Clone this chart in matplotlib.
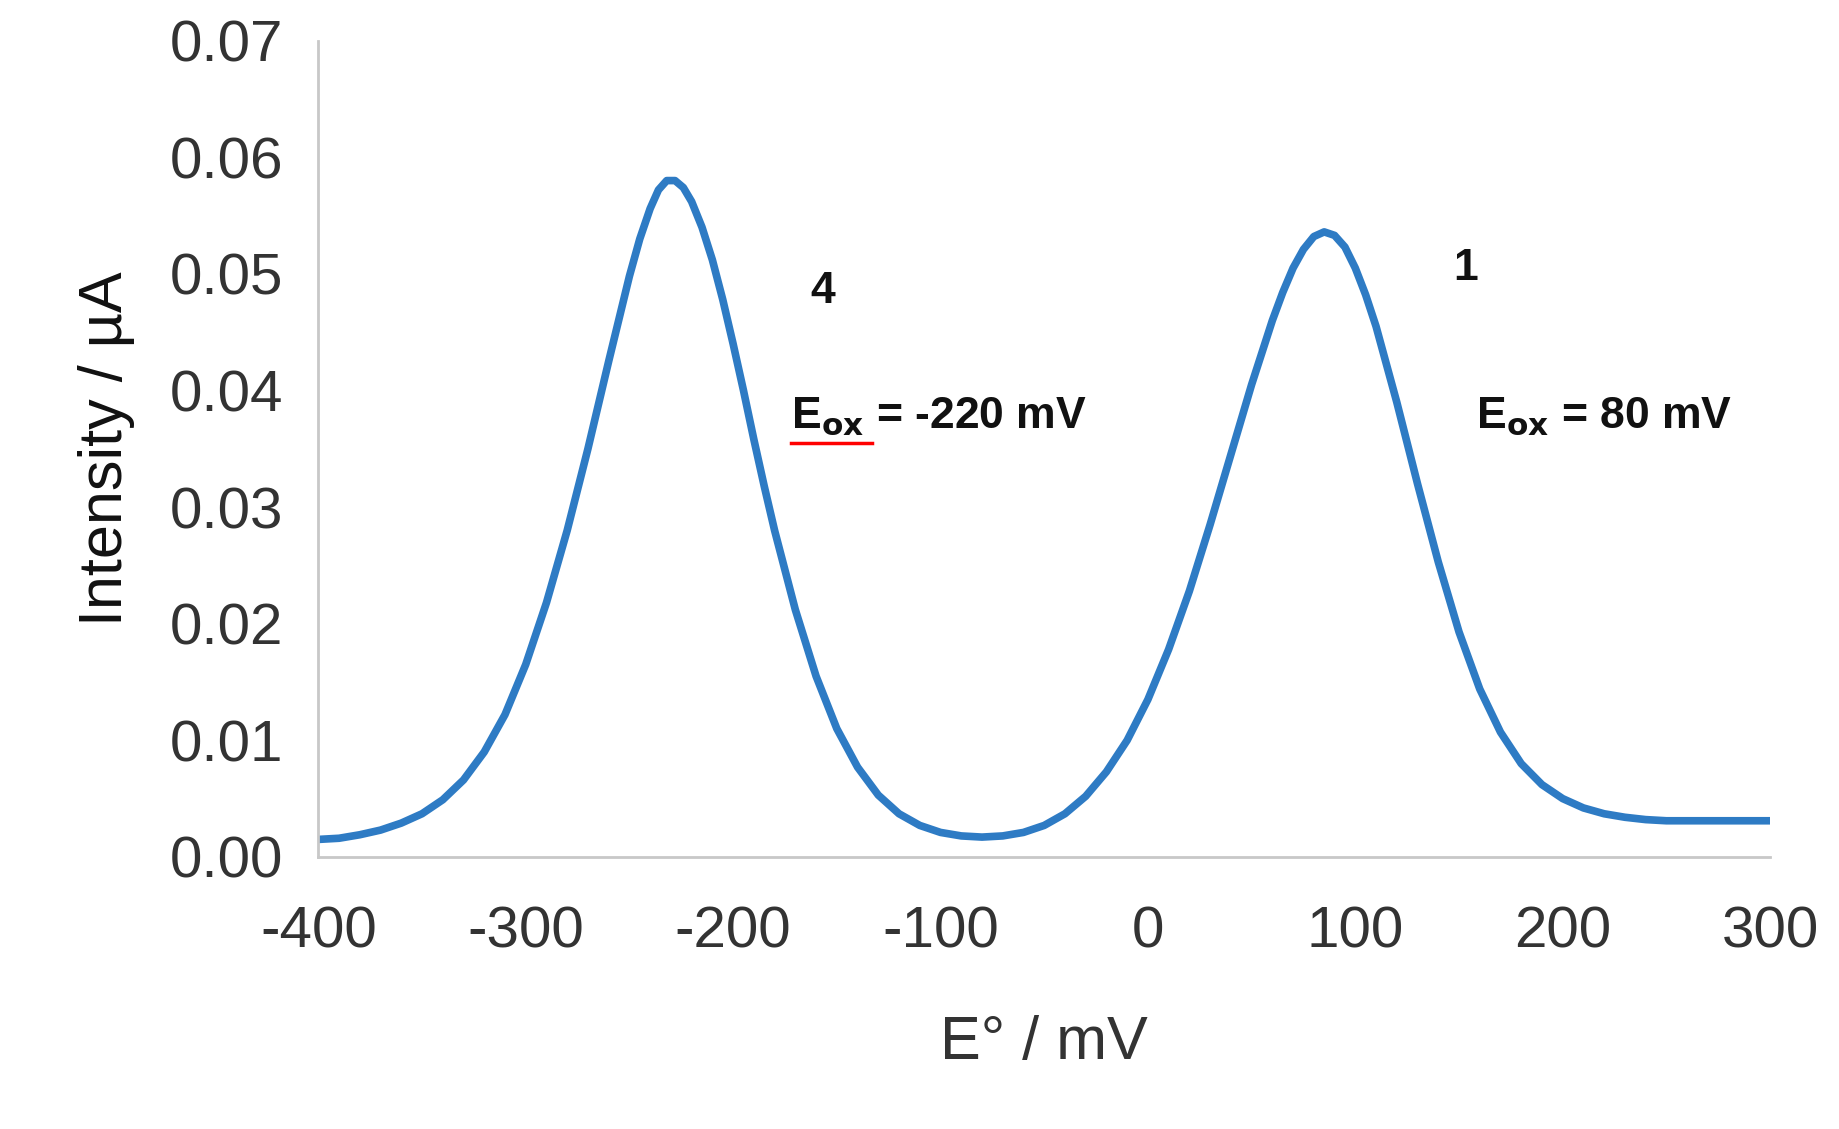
import matplotlib
matplotlib.use("Agg")
import matplotlib.pyplot as plt

plt.rcParams['font.family'] = ['Liberation Sans', 'DejaVu Sans']
plt.rcParams['axes.unicode_minus'] = False

E = [-400,-390,-380,-370,-360,-350,-340,-330,-320,-310,-300,-290,-280,-270,-260,-250,-245,-240,-236,-232,-228,-224,-220,-215,-210,-205,-200,-195,-190,-185,-180,-170,-160,-150,-140,-130,-120,-110,-100,-90,-80,-70,-60,-50,-40,-30,-20,-10,0,10,20,30,40,50,60,65,70,75,80,85,90,95,100,105,110,120,130,140,150,160,170,180,190,200,210,220,230,240,250,260,280,300]
I = [0.0015,0.0016,0.0019,0.0023,0.0029,0.0037,0.0049,0.0066,0.0090,0.0122,0.0165,0.0218,0.0280,0.0350,0.0425,0.0498,0.0530,0.0556,0.0572,0.0580,0.0580,0.0574,0.0562,0.0540,0.0512,0.0478,0.0440,0.0400,0.0358,0.0318,0.0280,0.0212,0.0155,0.0110,0.0077,0.0053,0.0037,0.0027,0.0021,0.0018,0.0017,0.0018,0.0021,0.0027,0.0037,0.0052,0.0073,0.0100,0.0135,0.0178,0.0228,0.0285,0.0345,0.0405,0.0460,0.0484,0.0505,0.0521,0.0532,0.0536,0.0533,0.0523,0.0505,0.0482,0.0455,0.0390,0.0320,0.0253,0.0193,0.0144,0.0107,0.0080,0.0062,0.0050,0.0042,0.0037,0.0034,0.0032,0.0031,0.0031,0.0031,0.0031]
xticks = [-400,-300,-200,-100,0,100,200,300]
yticks = [0.00,0.01,0.02,0.03,0.04,0.05,0.06,0.07]

fig = plt.figure(figsize=(18.4,11.29), dpi=100)
ax = fig.add_axes([0.173,0.241,0.789,0.723])
ax.plot(E, I, color="#2e7bc4", lw=5.5, solid_capstyle="round", solid_joinstyle="round")
ax.set_xlim(-400,300); ax.set_ylim(0,0.07)
ax.set_xticks(xticks); ax.set_yticks(yticks)
ax.set_yticklabels([f"{v:.2f}" for v in yticks])
ax.set_xticklabels([str(v) for v in xticks])
for s in ["top","right"]: ax.spines[s].set_visible(False)
for s in ["left","bottom"]:
    ax.spines[s].set_color("#c8c8c8"); ax.spines[s].set_linewidth(2)
ax.tick_params(length=0, labelsize=42, colors="#333333")
ax.tick_params(axis='x', pad=35)
ax.tick_params(axis='y', pad=25)
ax.set_xlabel("E° / mV", fontsize=44, color="#333333", labelpad=40)
ax.set_ylabel("Intensity / µA", fontsize=44, color="#111111", labelpad=25)
kw = dict(fontsize=32, fontweight="bold", color="#111111")
ax.text(-157, 0.0485, "4", ha="center", va="center", **kw)
ax.text(-172, 0.0378, r"E$_{\mathbf{ox}}$ = -220 mV", ha="left", va="center", **kw)
ax.text(153, 0.0505, "1", ha="center", va="center", **kw)
ax.text(158, 0.0378, r"E$_{\mathbf{ox}}$ = 80 mV", ha="left", va="center", **kw)
ax.plot([-172,-133],[0.0355,0.0355], color="red", lw=2.5)
fig.savefig("out.png", dpi=100)
